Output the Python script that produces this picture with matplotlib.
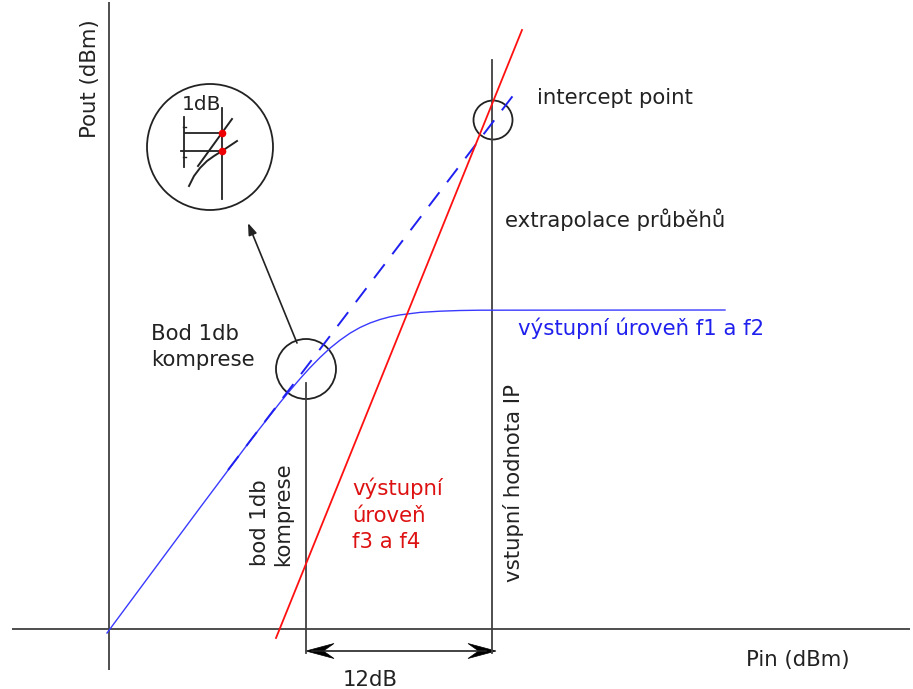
import numpy as np
import matplotlib
matplotlib.use("Agg")
import matplotlib.pyplot as plt
from matplotlib.patches import Circle, Polygon

# Drawing units: x to the right, y downwards (schematic sheet coordinates)
origin_x, origin_y = 109, 629

# fundamental output (f1, f2) with gain compression
fund_pin = [107, 150, 200, 250, 280, 290, 300, 310, 320, 330, 340, 350,
            360, 370, 380, 390, 400, 420, 440, 460, 480, 725]
fund_pout = [633, 575, 507.7, 441, 402.6, 390.5, 378.8, 367.7, 357.5, 348.2,
             340.2, 333.2, 327.5, 323, 319.5, 316.8, 314.9, 312.4, 311.2,
             310.5, 310.2, 310]

# extrapolated linear response
extrap_pin = [228, 515]
extrap_pout = [470, 93]

# third-order products (f3, f4)
im3_pin = [276, 522]
im3_pout = [638, 30]

# characteristic points
p1db = (306, 369)
ip3 = (493, 120)
ip_input = 492
span_y = 651

# magnified view of the 1 dB point
zoom_center = (210, 147)
zoom_lin_x = [198, 232]
zoom_lin_y = [166, 119]
zoom_comp_x = [189, 194, 200, 207, 214, 222, 237]
zoom_comp_y = [186, 176, 168, 161, 156, 151, 141]
zoom_marks_x = [222, 222]
zoom_marks_y = [133, 151]

FS = 15.3
TXT = "#222222"
AX = "#404040"

fig = plt.figure(figsize=(9.13, 6.89), dpi=100)
ax = fig.add_axes([0, 0, 1, 1])
ax.set_xlim(0, 913)
ax.set_ylim(689, 0)
ax.axis("off")

# axes of the diagram
ax.plot([12, 910], [origin_y, origin_y], color=AX, lw=1.3, solid_capstyle="butt")
ax.plot([origin_x, origin_x], [2, 670], color=AX, lw=1.3, solid_capstyle="butt")

# guide lines at the 1 dB point and at the intercept input level
ax.plot([p1db[0], p1db[0]], [383, span_y + 2], color=AX, lw=1.3)
ax.plot([ip_input, ip_input], [60, span_y + 2], color=AX, lw=1.3)

# curves
ax.plot(fund_pin, fund_pout, color="#3a3aff", lw=1.0, solid_joinstyle="round")
ax.plot(extrap_pin, extrap_pout, color="#2020f0", lw=1.4, linestyle=(0, (9, 6.5)))
ax.plot(im3_pin, im3_pout, color="#ff1010", lw=1.3)

# circles
ax.add_patch(Circle(p1db, 30, fill=False, ec=TXT, lw=1.3))
ax.add_patch(Circle(ip3, 19.5, fill=False, ec=TXT, lw=1.3))
ax.add_patch(Circle(zoom_center, 63, fill=False, ec=TXT, lw=1.3))

# arrow from the 1 dB point to the magnified view
ax.annotate("", xy=(248, 223), xytext=(297, 343),
            arrowprops=dict(arrowstyle="-|>,head_length=0.5,head_width=0.18",
                            color=TXT, lw=1.2, mutation_scale=14,
                            shrinkA=0, shrinkB=0))


def stealth(tip_x, tip_y, direction, length=28, half=7.5, notch=0.62):
    d = np.array(direction, float)
    d /= np.linalg.norm(d)
    n = np.array([-d[1], d[0]])
    tip = np.array([tip_x, tip_y])
    back = tip - d * length
    mid = tip - d * length * notch
    pts = [tip, back + n * half, mid, back - n * half]
    ax.add_patch(Polygon(pts, closed=True, fc="black", ec="black", lw=0.5))


# 12 dB span between the two input levels
ax.plot([p1db[0] + 6, ip_input - 6], [span_y, span_y], color=TXT, lw=1.2)
stealth(p1db[0], span_y, (-1, 0))
stealth(ip_input + 4, span_y, (1, 0))

# magnified view contents
ax.plot([222, 222], [108, 199], color=TXT, lw=1.3)
ax.plot([184, 184], [117, 167], color=TXT, lw=1.3)
ax.plot([185, 222], [133, 133], color=TXT, lw=1.3)
ax.plot([181, 222], [151, 151], color=TXT, lw=1.3)
for ty in (127, 157):
    ax.plot([182.5, 185.5], [ty, ty], color=TXT, lw=1.0)
ax.plot(zoom_lin_x, zoom_lin_y, color=TXT, lw=1.4)
ax.plot(zoom_comp_x, zoom_comp_y, color=TXT, lw=1.4, solid_joinstyle="round")
ax.plot(zoom_marks_x, zoom_marks_y, "o", color="#ee0000", ms=5.5, mec="none")

# labels
ax.text(182, 110, "1dB", fontsize=14.5, color=TXT, va="baseline")
ax.text(151, 340, "Bod 1db", fontsize=FS, color=TXT, va="baseline")
ax.text(151, 366, "komprese", fontsize=FS, color=TXT, va="baseline")
ax.text(537, 104, "intercept point", fontsize=FS, color=TXT, va="baseline")
ax.text(505, 227, "extrapolace průběhů", fontsize=FS, color=TXT, va="baseline")
ax.text(518, 335, "výstupní úroveň f1 a f2", fontsize=FS, color="#2020ee",
        va="baseline")
for i, line in enumerate(["výstupní", "úroveň", "f3 a f4"]):
    ax.text(352, 495 + 26.5 * i, line, fontsize=FS, color="#dd1111",
            va="baseline")
ax.text(266, 566, "bod 1db", fontsize=FS, color=TXT, rotation=90,
        rotation_mode="anchor", ha="left", va="baseline")
ax.text(289, 566, "komprese", fontsize=FS, color=TXT, rotation=90,
        rotation_mode="anchor", ha="left", va="baseline")
ax.text(520, 582, "vstupní hodnota IP", fontsize=FS, color=TXT, rotation=90,
        rotation_mode="anchor", ha="left", va="baseline")
ax.text(96, 138, "Pout (dBm)", fontsize=FS, color=TXT, rotation=90,
        rotation_mode="anchor", ha="left", va="baseline")
ax.text(746, 666, "Pin (dBm)", fontsize=FS, color=TXT, va="baseline")
ax.text(370, 686, "12dB", fontsize=FS, color=TXT, ha="center", va="baseline")

fig.savefig("out.png", dpi=100, facecolor="white")
